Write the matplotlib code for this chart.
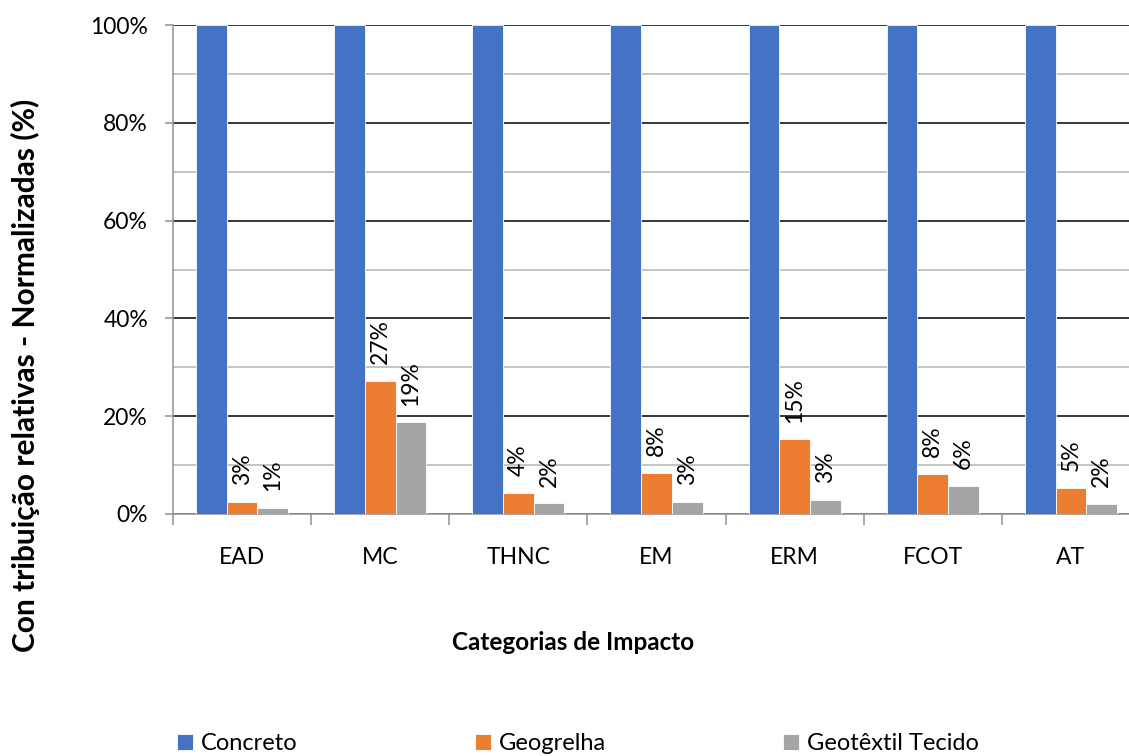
import matplotlib
matplotlib.use("Agg")
import matplotlib.pyplot as plt
import numpy as np
from matplotlib.ticker import MultipleLocator, FuncFormatter, FixedLocator

categories = ["EAD", "MC", "THNC", "EM", "ERM", "FCOT", "AT"]
series_names = ["Concreto", "Geogrelha", "Geotêxtil Tecido"]
concreto = [100, 100, 100, 100, 100, 100, 100]
geogrelha = [2.5, 27.2, 4.3, 8.4, 15.3, 8.2, 5.4]
geotextil = [1.2, 18.75, 2.2, 2.45, 2.9, 5.7, 2.1]
label_geogrelha = ["3%", "27%", "4%", "8%", "15%", "8%", "5%"]
label_geotextil = ["1%", "19%", "2%", "3%", "3%", "6%", "2%"]

colors = ["#4472C4", "#ED7D31", "#A5A5A5"]

plt.rcParams['font.family'] = ['Lato', 'DejaVu Sans']

W, H = 1129, 756
fig = plt.figure(figsize=(W / 100, H / 100), dpi=100)
ax = fig.add_axes([173 / W, 1 - 514 / H, (1140 - 173) / W, (514 - 25) / H])

x = np.arange(len(categories))
bw = 0.222
data = [concreto, geogrelha, geotextil]
bars = []
for i, (vals, col, name) in enumerate(zip(data, colors, series_names)):
    b = ax.bar(x + (i - 1) * bw, vals, width=bw, color=col, label=name,
               edgecolor='white', linewidth=0.6, zorder=3)
    bars.append(b)

for b, labs in ((bars[1], label_geogrelha), (bars[2], label_geotextil)):
    for rect, lab in zip(b, labs):
        ax.annotate(lab, (rect.get_x() + rect.get_width() / 2, rect.get_height()),
                    xytext=(0, 12), textcoords='offset points', rotation=90,
                    ha='center', va='bottom', fontsize=16.5, color='black', zorder=4)

ax.set_xlim(-0.5, len(categories) - 0.5)
ax.set_ylim(0, 100)

ax.yaxis.set_major_locator(MultipleLocator(20))
ax.yaxis.set_minor_locator(FixedLocator([10, 30, 50, 70, 90]))
ax.yaxis.set_major_formatter(FuncFormatter(lambda v, p: f"{int(v)}%"))
ax.grid(axis='y', which='major', color='#262626', linewidth=1.3, zorder=0)
ax.grid(axis='y', which='minor', color='#BFBFBF', linewidth=1.3, zorder=0)
ax.set_axisbelow(True)

ax.set_xticks(x)
ax.set_xticklabels(categories)
ax.xaxis.set_minor_locator(FixedLocator(np.arange(-0.5, len(categories), 1.0)))
ax.tick_params(axis='x', which='major', length=0, pad=24, labelsize=16.5)
ax.tick_params(axis='x', which='minor', length=8, width=1.2, color='#999999', direction='out')
ax.tick_params(axis='y', which='major', length=6, width=1.2, color='#999999', pad=12, labelsize=16.5)
ax.tick_params(axis='y', which='minor', length=0)

for s in ('top', 'right'):
    ax.spines[s].set_visible(False)
for s in ('left', 'bottom'):
    ax.spines[s].set_color('#999999')
    ax.spines[s].set_linewidth(1.2)

ax.set_ylabel("Con tribuição relativas - Normalizadas (%)", fontsize=21.5, fontweight='bold')
ax.yaxis.set_label_coords((25 - 173) / (1140 - 173), (514 - 375) / (514 - 25))
ax.yaxis.label.set_va('center')
ax.set_xlabel("Categorias de Impacto", fontsize=17.5, fontweight='bold')
ax.xaxis.set_label_coords((573 - 173) / (1140 - 173), (514 - 643) / (514 - 25))
ax.xaxis.label.set_va('center')

fig.legend(handles=bars, labels=series_names, loc='center left',
           bbox_to_anchor=(177 / W, 1 - 744 / H), ncol=3, frameon=False,
           fontsize=17, handlelength=0.68, handleheight=0.68, handletextpad=0.34,
           columnspacing=7.5, borderpad=0, borderaxespad=0)

fig.savefig("out.png", dpi=100)
